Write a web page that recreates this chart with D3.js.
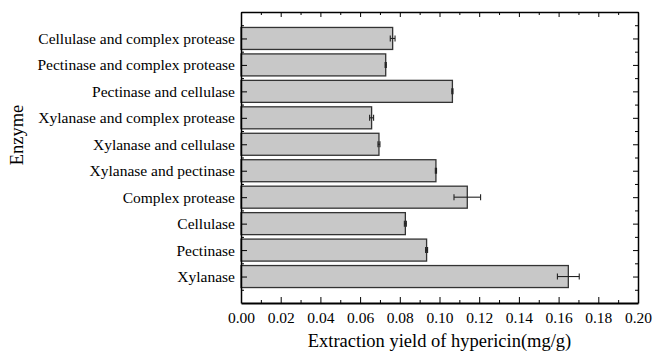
<!DOCTYPE html>
<html>
<head>
<meta charset="utf-8">
<script src="https://cdn.jsdelivr.net/npm/d3@7"></script>
<style>
  body { margin: 0; background: #fff; }
  svg { display: block; }
  svg text { font-family: "Liberation Serif", "Times New Roman", serif; }
  .axis path, .axis line { stroke: #000; }
</style>
</head>
<body>
<div id="chart"></div>
<script>
// categories, top to bottom
const enzymes = [
    "Cellulase and complex protease",
    "Pectinase and complex protease",
    "Pectinase and cellulase",
    "Xylanase and complex protease",
    "Xylanase and cellulase",
    "Xylanase and pectinase",
    "Complex protease",
    "Cellulase",
    "Pectinase",
    "Xylanase"
];
// extraction yield (mg/g) and its error
const yields = [0.0764, 0.0729, 0.1065, 0.0658, 0.0695, 0.0982, 0.1140, 0.0828, 0.0935, 0.1649];
const errors = [0.0012, 0.0003, 0.0003, 0.0010, 0.0005, 0.0003, 0.0067, 0.0005, 0.0005, 0.0055];

const xTicks = [0, 0.02, 0.04, 0.06, 0.08, 0.10, 0.12, 0.14, 0.16, 0.18, 0.20];
const xMinorTicks = [0.01, 0.03, 0.05, 0.07, 0.09, 0.11, 0.13, 0.15, 0.17, 0.19];

const width = 654, height = 353;
const margin = {top: 12, right: 16, bottom: 50, left: 241};
const innerW = width - margin.left - margin.right;
const innerH = height - margin.top - margin.bottom;

const svg = d3.select('#chart').append('svg')
    .attr('width', width)
    .attr('height', height);

const chart = svg.append('g')
    .attr('transform', `translate(${margin.left},${margin.top})`);

const x = d3.scaleLinear().domain([0, 0.2]).range([0, innerW]);
// category i sits at position i+1, frame spans 0..11
const y = d3.scaleLinear().domain([0, enzymes.length + 1]).range([0, innerH]);
const barH = 22;

const catPos = enzymes.map((d, i) => i + 1);
const halfPos = d3.range(0, enzymes.length + 1).map(d => d + 0.5);

// bars
chart.selectAll('rect.bar')
    .data(enzymes)
    .join('rect')
    .attr('class', 'bar')
    .attr('x', x(0))
    .attr('y', (d, i) => y(i + 1) - barH / 2)
    .attr('width', (d, i) => x(yields[i]) - x(0))
    .attr('height', barH)
    .attr('fill', '#c8c8c8')
    .attr('stroke', '#333')
    .attr('stroke-width', 1.3);

// error bars
const err = chart.selectAll('g.err')
    .data(enzymes)
    .join('g')
    .attr('class', 'err')
    .attr('stroke', '#222')
    .attr('stroke-width', 1.1);

err.append('line')
    .attr('x1', (d, i) => x(yields[i] - errors[i]))
    .attr('x2', (d, i) => x(yields[i] + errors[i]))
    .attr('y1', (d, i) => y(i + 1))
    .attr('y2', (d, i) => y(i + 1));

[-1, 1].forEach(s => {
    err.append('line')
        .attr('x1', (d, i) => x(yields[i] + s * errors[i]))
        .attr('x2', (d, i) => x(yields[i] + s * errors[i]))
        .attr('y1', (d, i) => y(i + 1) - 3)
        .attr('y2', (d, i) => y(i + 1) + 3);
});

// axes
const xAxis = d3.axisBottom(x)
    .tickValues(xTicks)
    .tickSize(-6)
    .tickSizeOuter(0)
    .tickPadding(9)
    .tickFormat(d3.format('.2f'));

const xAxisG = chart.append('g')
    .attr('class', 'axis')
    .attr('transform', `translate(0,${innerH})`)
    .call(xAxis);
xAxisG.attr('font-family', null);
xAxisG.selectAll('text').attr('font-size', 15.5).attr('fill', '#000');
xAxisG.select('.domain').attr('stroke-width', 2);

chart.append('g')
    .attr('class', 'axis')
    .attr('transform', `translate(0,${innerH})`)
    .call(d3.axisBottom(x).tickValues(xMinorTicks).tickSize(-3).tickSizeOuter(0).tickFormat(''))
    .select('.domain').remove();

const topAxis = chart.append('g')
    .attr('class', 'axis')
    .call(d3.axisTop(x).tickValues(xTicks).tickSize(-5).tickSizeOuter(0).tickFormat(''));
topAxis.select('.domain').attr('stroke-width', 1.3);
chart.append('g')
    .attr('class', 'axis')
    .call(d3.axisTop(x).tickValues(xMinorTicks).tickSize(-3).tickSizeOuter(0).tickFormat(''))
    .select('.domain').remove();

const yAxisG = chart.append('g')
    .attr('class', 'axis')
    .call(d3.axisLeft(y)
        .tickValues(catPos)
        .tickSize(-6)
        .tickSizeOuter(0)
        .tickPadding(6)
        .tickFormat(d => enzymes[d - 1]));
yAxisG.attr('font-family', null);
yAxisG.selectAll('text').attr('font-size', 15.5).attr('fill', '#000');
yAxisG.select('.domain').attr('stroke-width', 1.5);

chart.append('g')
    .attr('class', 'axis')
    .call(d3.axisLeft(y).tickValues(halfPos).tickSize(-3).tickSizeOuter(0).tickFormat(''))
    .select('.domain').remove();

const rightAxis = chart.append('g')
    .attr('class', 'axis')
    .attr('transform', `translate(${innerW},0)`)
    .call(d3.axisRight(y).tickValues(catPos).tickSize(-5).tickSizeOuter(0).tickFormat(''));
rightAxis.select('.domain').attr('stroke-width', 1.5);
chart.append('g')
    .attr('class', 'axis')
    .attr('transform', `translate(${innerW},0)`)
    .call(d3.axisRight(y).tickValues(halfPos).tickSize(-3).tickSizeOuter(0).tickFormat(''))
    .select('.domain').remove();

// titles
svg.append('text')
    .attr('x', margin.left + innerW / 2)
    .attr('y', 347)
    .attr('text-anchor', 'middle')
    .attr('font-size', 18.5)
    .text('Extraction yield of hypericin(mg/g)');

svg.append('text')
    .attr('transform', 'translate(23,135) rotate(-90)')
    .attr('text-anchor', 'middle')
    .attr('font-size', 18.5)
    .text('Enzyme');
</script>
</body>
</html>
